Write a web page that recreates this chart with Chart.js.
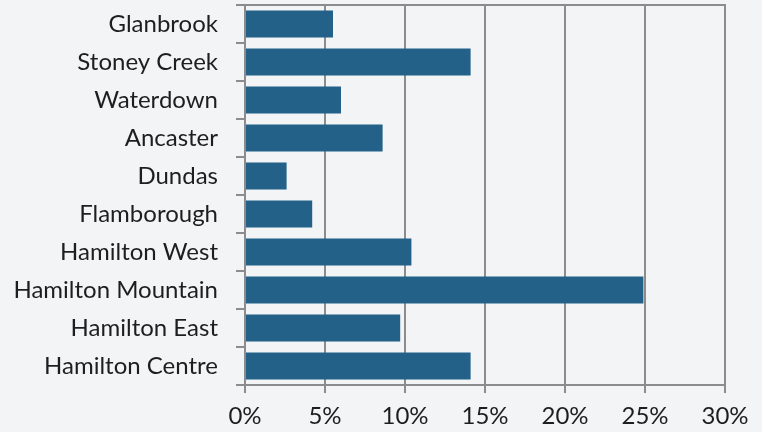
<!DOCTYPE html>
<html>
<head>
<meta charset="utf-8">
<script src="https://cdn.jsdelivr.net/npm/chart.js@4.4.0/dist/chart.umd.min.js"></script>
<style>
  html, body { margin: 0; padding: 0; background: #f2f4f6; }
  #wrap { width: 762px; height: 432px; }
</style>
</head>
<body>
<div id="wrap"><canvas id="barGraph"></canvas></div>
<script>
// quartieri e percentuali
var quartieri = ['Glanbrook', 'Stoney Creek', 'Waterdown', 'Ancaster', 'Dundas',
  'Flamborough', 'Hamilton West', 'Hamilton Mountain', 'Hamilton East', 'Hamilton Centre'];
var percentuali = [5.5, 14.1, 6.0, 8.6, 2.6, 4.2, 10.4, 24.9, 9.7, 14.1];
var tickX = [0, 5, 10, 15, 20, 25, 30];

var grigio = '#8c8c8c';

var ctx = document.getElementById('barGraph');
var myChart = new Chart(ctx, {
  type: 'bar',
  data: {
    labels: quartieri,
    datasets: [{
      data: percentuali,
      backgroundColor: '#236189',
      barPercentage: 0.71,
      categoryPercentage: 1
    }]
  },
  options: {
    indexAxis: 'y',
    responsive: true,
    maintainAspectRatio: false,
    animation: false,
    layout: { padding: { top: 5, right: 37, left: 0, bottom: 0 } },
    plugins: { legend: { display: false }, tooltip: { enabled: false } },
    scales: {
      x: {
        min: 0,
        max: 30,
        afterBuildTicks: function(scale) {
          scale.ticks = tickX.map(function(v) { return { value: v }; });
        },
        // altezza fissa dell'asse sotto
        afterFit: function(scale) { scale.height = 47; },
        ticks: {
          color: '#1e1e1e',
          font: { family: 'Lato', size: 24 },
          padding: 9,
          maxRotation: 0,
          callback: function(v) { return v + '%'; }
        },
        grid: { color: grigio, lineWidth: 2, tickLength: 8 },
        border: { color: grigio, width: 2 }
      },
      x2: {
        position: 'top',
        min: 0,
        max: 30,
        afterFit: function(scale) { scale.height = 0; },
        ticks: { display: false },
        grid: { display: false },
        border: { color: grigio, width: 2 }
      },
      y: {
        afterFit: function(scale) {
          scale.width = 245;
          // niente spazio extra sopra e sotto
          scale.paddingTop = 0;
          scale.paddingBottom = 0;
        },
        ticks: {
          color: '#1e1e1e',
          font: { family: 'Lato', size: 24 },
          padding: 18
        },
        grid: { offset: true, drawOnChartArea: false, color: grigio, lineWidth: 2, tickLength: 9 },
        border: { color: grigio, width: 2 }
      }
    }
  }
});
</script>
</body>
</html>
